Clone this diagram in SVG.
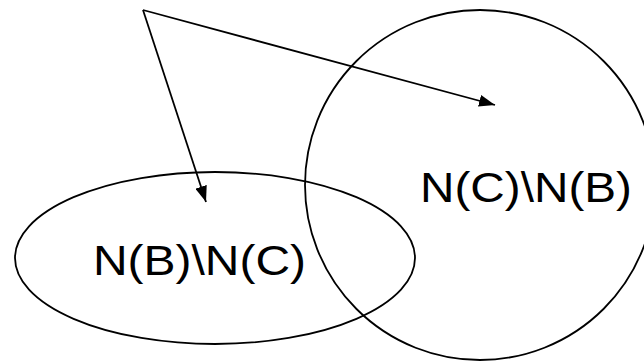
<svg xmlns="http://www.w3.org/2000/svg" width="644" height="362" viewBox="0 0 644 362">
  <defs>
    <marker id="arrow" viewBox="0 0 16 12" refX="16" refY="6" markerWidth="16" markerHeight="12" markerUnits="userSpaceOnUse" orient="auto">
      <path d="M0,0 L16,6 L0,12 Z" fill="#000"/>
    </marker>
    <style>
      .shape { fill: none; stroke: #000; stroke-width: 1.8; }
      .label { font-family: "Liberation Sans", Arial, sans-serif; font-size: 42px; fill: #000; }
      .edge { fill: none; stroke: #000; stroke-width: 1.8; marker-end: url(#arrow); }
    </style>
  </defs>
  <rect width="644" height="362" fill="#fff"/>
  <g id="set-b">
    <ellipse class="shape" cx="215" cy="258" rx="200" ry="86"/>
    <text class="label" x="93" y="275" textLength="213" lengthAdjust="spacingAndGlyphs">N(B)\N(C)</text>
  </g>
  <g id="set-c">
    <circle class="shape" cx="480" cy="185" r="175"/>
    <text class="label" x="420" y="202" textLength="212" lengthAdjust="spacingAndGlyphs">N(C)\N(B)</text>
  </g>
  <g id="connectors">
    <line class="edge" x1="143" y1="10" x2="495" y2="105"/>
    <line class="edge" x1="143" y1="10" x2="206" y2="202"/>
  </g>
</svg>
